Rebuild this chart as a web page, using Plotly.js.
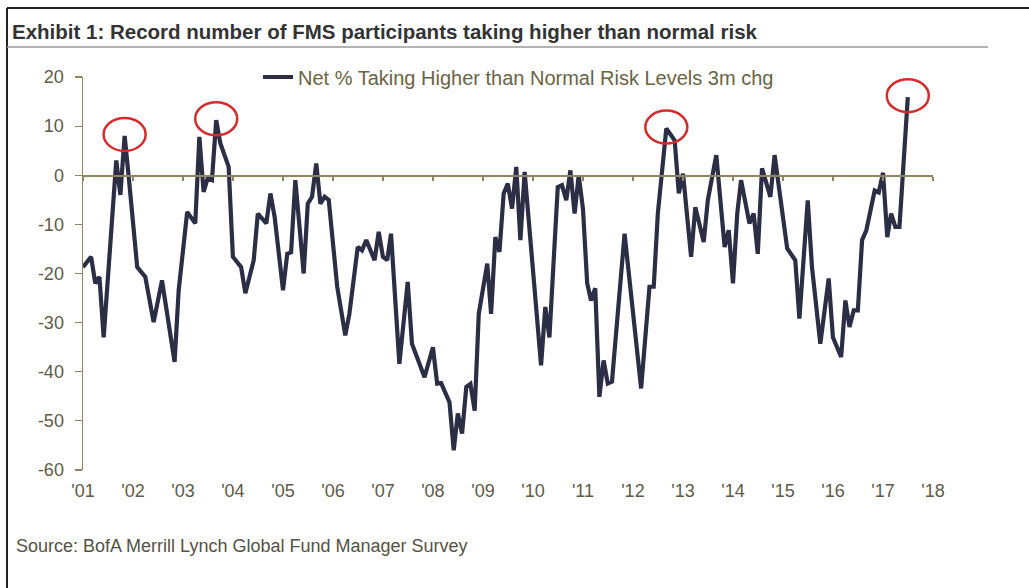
<!DOCTYPE html>
<html>
<head>
<meta charset="utf-8">
<script src="https://cdn.plot.ly/plotly-3.0.1.min.js"></script>
<style>
html,body{margin:0;padding:0;background:#fff;}
#chart{width:1029px;height:588px;}
</style>
</head>
<body>
<div id="chart"></div>
<script>
// Monthly readings (vertices of the line), Net % taking higher than normal risk, 3m change
const dates = [
 '2001-01','2001-03','2001-04','2001-05','2001-06','2001-09','2001-10','2001-11','2001-12',
 '2002-02','2002-04','2002-06','2002-08','2002-11','2002-12',
 '2003-02','2003-04','2003-05','2003-06','2003-07','2003-08','2003-09','2003-10','2003-11','2003-12',
 '2004-01','2004-03','2004-04','2004-06','2004-07','2004-09','2004-10','2004-11',
 '2005-01','2005-02','2005-03','2005-04','2005-06','2005-07','2005-08','2005-09','2005-10','2005-11','2005-12',
 '2006-02','2006-04','2006-05','2006-07','2006-08','2006-09','2006-11','2006-12',
 '2007-01','2007-02','2007-03','2007-05','2007-07','2007-08','2007-11',
 '2008-01','2008-02','2008-03','2008-05','2008-06','2008-07','2008-08','2008-09','2008-10','2008-11','2008-12',
 '2009-02','2009-03','2009-04','2009-05','2009-06','2009-07','2009-08','2009-09','2009-10','2009-11',
 '2010-01','2010-03','2010-04','2010-05','2010-07','2010-08','2010-09','2010-10','2010-11','2010-12',
 '2011-01','2011-02','2011-03','2011-04','2011-05','2011-06','2011-07','2011-08','2011-11',
 '2012-03','2012-05','2012-06','2012-07','2012-09','2012-11','2012-12',
 '2013-01','2013-03','2013-04','2013-06','2013-07','2013-09','2013-11','2013-12',
 '2014-01','2014-02','2014-03','2014-05','2014-06','2014-07','2014-08','2014-10','2014-11',
 '2015-02','2015-04','2015-05','2015-07','2015-08','2015-10','2015-12',
 '2016-01','2016-03','2016-04','2016-05','2016-06','2016-07','2016-08','2016-09','2016-11','2016-12',
 '2017-01','2017-02','2017-03','2017-04','2017-05','2017-07'
];
const values = [
 -18.7,-16.6,-22,-20.7,-33,3,-4,8,-0.3,
 -18.7,-20.7,-29.9,-21.4,-38,-23.4,
 -7.5,-9.8,7.8,-3.4,-0.6,-1,11.2,6.5,3.7,1.7,
 -16.6,-18.7,-24,-17.3,-7.8,-9.8,-3.7,-8.5,
 -23.4,-16,-15.7,-1,-20,-5.8,-4.4,2.4,-5.8,-4.4,-5,
 -22.7,-32.6,-28.2,-14.6,-15.3,-13.2,-17.3,-11.5,
 -16.6,-17.3,-11.9,-38.4,-21.7,-34.3,-41.1,
 -35,-42.4,-42.3,-46.2,-56,-48.5,-52.6,-43.1,-42.5,-47.9,-28.2,
 -18,-28.2,-12.6,-15.6,-3.7,-1.7,-6.8,1.7,-13.2,0.7,
 -19.3,-38.7,-26.8,-33,-2.4,-2,-5.1,1,-7.8,0,
 -6.8,-22,-25.5,-23,-45.1,-37.7,-42.4,-42,-11.9,
 -43.4,-22.7,-22.7,-7.8,9.5,7.1,-3.7,
 0.3,-16.6,-6.5,-13.6,-5.1,4.1,-14.6,-11.2,
 -22,-7.8,-1,-9.8,-7.8,-16,1.4,-4.4,4.1,
 -14.9,-17.3,-29.2,-5.1,-18.7,-34.3,-21,
 -33,-37,-25.5,-30.9,-27.5,-27.5,-13.2,-11.2,-3.1,-3.5,
 0.5,-12.6,-7.8,-10.5,-10.5,15.9
];
const seriesName = 'Net % Taking Higher than Normal Risk Levels 3m chg';
const highlighted = ['2001-11','2003-09','2012-09','2017-07'];
const titleText = 'Exhibit 1: Record number of FMS participants taking higher than normal risk';
const sourceText = 'Source: BofA Merrill Lynch Global Fund Manager Survey';
const yTicks = [20,10,0,-10,-20,-30,-40,-50,-60];
const yTickLabels = ['20','10','0','-10','-20','-30','-40','-50','-60'];

const xDates = dates.map(d => d + '-01');

// pixel -> paper helpers for frame decorations (plot area 83..933 x 77..470)
const L = 83, R = 933, T = 77, B = 470;
const px = x => (x - L) / (R - L);
const py = y => (B - y) / (B - T);

const axisCol = '#8d8660';
const circles = highlighted.map(d => {
  const i = dates.indexOf(d);
  return {
    type: 'circle', xref: 'x', yref: 'y',
    xsizemode: 'pixel', ysizemode: 'pixel',
    xanchor: xDates[i], yanchor: values[i],
    x0: -21, x1: 21, y0: -15, y1: 18,
    line: {color: '#d42b2b', width: 2.5}
  };
});

const traces = [
  {
    x: xDates, y: values, type: 'scatter', mode: 'lines', name: seriesName,
    line: {color: '#2b2e44', width: 4.2, shape: 'linear'},
    hoverinfo: 'x+y'
  },
  {
    x: [xDates[0]], y: [null], xaxis: 'x2', yaxis: 'y', type: 'scatter', mode: 'lines',
    showlegend: false, hoverinfo: 'skip'
  }
];

const layout = {
  width: 1029, height: 588,
  margin: {l: L, r: 1029 - R, t: T, b: 588 - B},
  paper_bgcolor: '#ffffff', plot_bgcolor: '#ffffff',
  font: {family: '"Liberation Sans", Arial, sans-serif', color: '#5e5a48'},
  title: {
    text: '<b>' + titleText + '</b>',
    xref: 'container', yref: 'container', x: 12/1029, xanchor: 'left',
    y: 1 - 32/588, yanchor: 'middle',
    font: {family: '"Liberation Sans Narrow", "Liberation Sans", Arial, sans-serif', size: 20.5, color: '#333333'}
  },
  showlegend: true,
  legend: {
    orientation: 'h', x: px(258), xanchor: 'left', y: 1, yanchor: 'middle',
    bgcolor: 'rgba(0,0,0,0)', font: {size: 20, color: '#6a6344'}
  },
  xaxis: {
    type: 'date', range: ['2001-01-01', '2018-01-01'],
    tick0: '2001-01-01', dtick: 'M12', tickformat: "'%y",
    showline: false, ticks: '', showgrid: false, zeroline: false,
    tickfont: {size: 18, color: '#5e5a48'}, ticklabelstandoff: 8
  },
  xaxis2: {
    type: 'date', range: ['2001-01-01', '2018-01-01'], overlaying: 'x',
    anchor: 'free', position: 0.75, side: 'bottom',
    tick0: '2001-01-01', dtick: 'M12',
    showline: true, linecolor: axisCol, linewidth: 1.5,
    ticks: 'outside', ticklen: 4, tickcolor: axisCol, tickwidth: 1.2,
    showticklabels: false, showgrid: false, zeroline: false
  },
  yaxis: {
    range: [-60, 20], tickvals: yTicks, ticktext: yTickLabels,
    showline: true, linecolor: axisCol, linewidth: 1.5,
    ticks: 'outside', ticklen: 7, tickcolor: axisCol, tickwidth: 1.2,
    showgrid: false, zeroline: false,
    tickfont: {size: 18, color: '#5e5a48'}, ticklabelstandoff: 7
  },
  shapes: [
    // outer frame (top and left edges)
    {type: 'line', xref: 'paper', yref: 'paper', x0: px(7), x1: px(1029), y0: py(8), y1: py(8), line: {color: '#222', width: 2}},
    {type: 'line', xref: 'paper', yref: 'paper', x0: px(7), x1: px(7), y0: py(8), y1: py(588), line: {color: '#222', width: 2}},
    // rule under title
    {type: 'line', xref: 'paper', yref: 'paper', x0: px(7), x1: px(988), y0: py(47), y1: py(47), line: {color: '#9a9a9a', width: 1.5}}
  ].concat(circles),
  annotations: [
    {
      text: sourceText, xref: 'paper', yref: 'paper', x: px(14), y: py(546),
      xanchor: 'left', yanchor: 'middle', showarrow: false,
      font: {size: 18, color: '#555244'}
    }
  ]
};

Plotly.newPlot('chart', traces, layout, {displayModeBar: false, staticPlot: true});
</script>
</body>
</html>
